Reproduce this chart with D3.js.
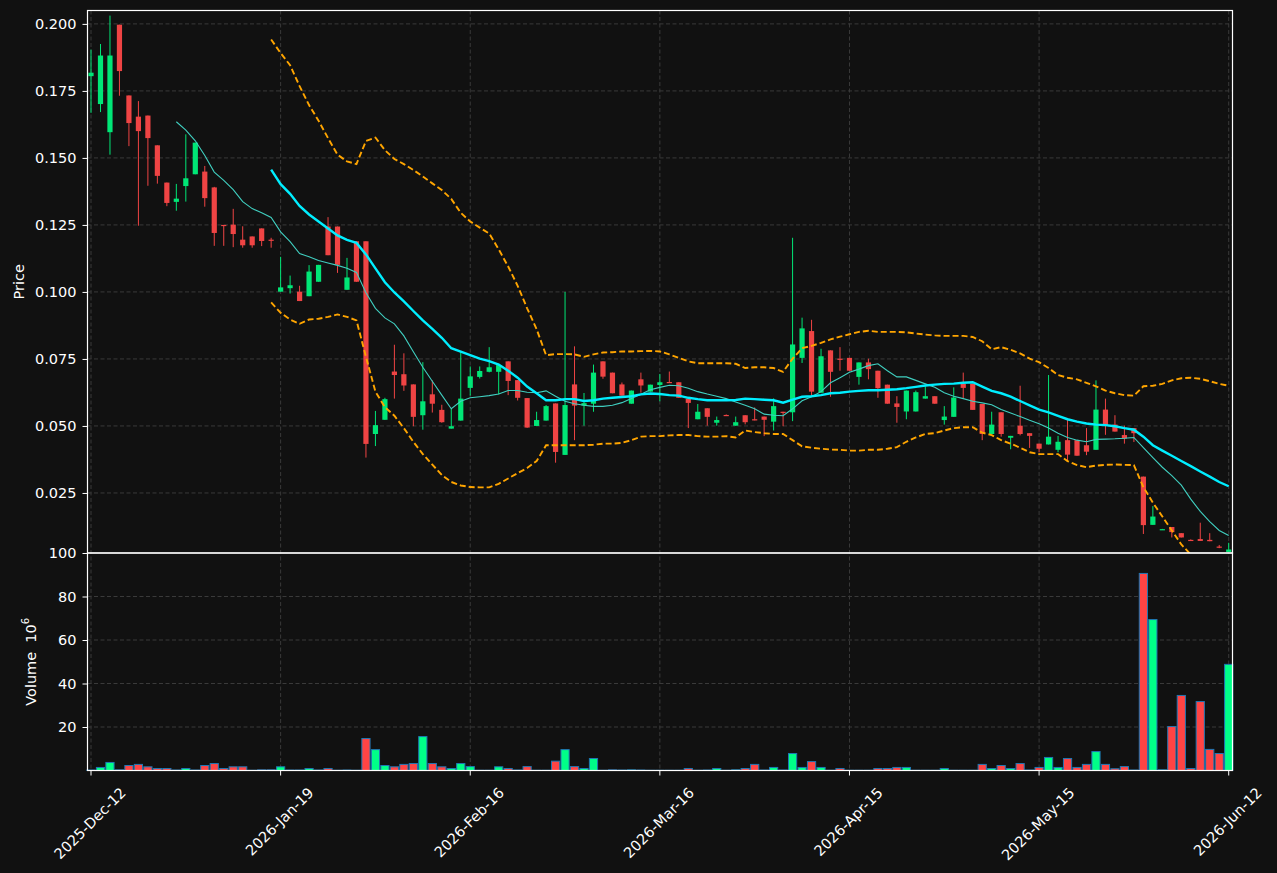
<!DOCTYPE html>
<html>
<head>
<meta charset="utf-8">
<script src="https://cdn.jsdelivr.net/npm/d3@7/dist/d3.min.js"></script>
<style>
  html, body { margin: 0; background: #111111; }
  svg { display: block; font-family: "DejaVu Sans", sans-serif; }
</style>
</head>
<body>
<svg id="chart" width="1277" height="873"></svg>
<script>
// Daily candles, one per trading row (index based x axis, like mplfinance)
const opens = [
  0.1805, 0.1701, 0.1596, 0.1997, 0.1733, 0.1654, 0.1658, 0.1547, 0.1408, 0.1336,
  0.1395, 0.1439, 0.1449, 0.1390, 0.1250, 0.1251, 0.1195, 0.1207, 0.1237, 0.1195,
  0.1001, 0.1014, 0.1001, 0.0984, 0.1038, 0.1244, 0.1244, 0.1008, 0.1189, 0.1189,
  0.0470, 0.0523, 0.0703, 0.0693, 0.0655, 0.0540, 0.0618, 0.0560, 0.0490, 0.0520,
  0.0642, 0.0683, 0.0702, 0.0702, 0.0741, 0.0671, 0.0604, 0.0500, 0.0520, 0.0584,
  0.0392, 0.0655, 0.0576, 0.0583, 0.0741, 0.0699, 0.0655, 0.0583, 0.0674, 0.0628,
  0.0653, 0.0664, 0.0663, 0.0602, 0.0525, 0.0566, 0.0512, 0.0541, 0.0501, 0.0540,
  0.0525, 0.0535, 0.0516, 0.0553, 0.0551, 0.0754, 0.0854, 0.0624, 0.0782, 0.0751,
  0.0754, 0.0683, 0.0737, 0.0706, 0.0654, 0.0584, 0.0554, 0.0554, 0.0602, 0.0611,
  0.0522, 0.0534, 0.0657, 0.0657, 0.0582, 0.0470, 0.0551, 0.0456, 0.0501, 0.0473,
  0.0434, 0.0431, 0.0411, 0.0447, 0.0447, 0.0428, 0.0411, 0.0561, 0.0505, 0.0466,
  0.0492, 0.0311, 0.0131, 0.0113, 0.0123, 0.0100, 0.0075, 0.0078, 0.0075, 0.0050,
  0.0030
];
const highs = [
  0.1904, 0.1925, 0.2031, 0.1997, 0.1733, 0.1712, 0.1658, 0.1547, 0.1408, 0.1403,
  0.1588, 0.1557, 0.1470, 0.1392, 0.1250, 0.1310, 0.1245, 0.1207, 0.1237, 0.1202,
  0.1131, 0.1061, 0.1023, 0.1100, 0.1101, 0.1279, 0.1244, 0.1127, 0.1189, 0.1189,
  0.0556, 0.0605, 0.0803, 0.0771, 0.0655, 0.0738, 0.0670, 0.0579, 0.0564, 0.0777,
  0.0722, 0.0722, 0.0794, 0.0732, 0.0741, 0.0671, 0.0604, 0.0553, 0.0578, 0.0584,
  0.1000, 0.0797, 0.0623, 0.0729, 0.0741, 0.0699, 0.0662, 0.0632, 0.0699, 0.0654,
  0.0694, 0.0703, 0.0663, 0.0603, 0.0582, 0.0566, 0.0535, 0.0543, 0.0535, 0.0540,
  0.0569, 0.0535, 0.0603, 0.0553, 0.1202, 0.0904, 0.0896, 0.0788, 0.0782, 0.0794,
  0.0754, 0.0737, 0.0751, 0.0706, 0.0654, 0.0611, 0.0632, 0.0632, 0.0648, 0.0611,
  0.0574, 0.0644, 0.0699, 0.0657, 0.0582, 0.0553, 0.0551, 0.0463, 0.0650, 0.0473,
  0.0434, 0.0690, 0.0463, 0.0525, 0.0447, 0.0492, 0.0670, 0.0602, 0.0540, 0.0501,
  0.0492, 0.0311, 0.0201, 0.0116, 0.0123, 0.0100, 0.0077, 0.0139, 0.0100, 0.0056,
  0.0064
];
const lows = [
  0.1668, 0.1671, 0.1512, 0.1732, 0.1544, 0.1247, 0.1396, 0.1404, 0.1320, 0.1303,
  0.1337, 0.1439, 0.1318, 0.1172, 0.1172, 0.1167, 0.1165, 0.1165, 0.1171, 0.1165,
  0.1001, 0.0994, 0.0966, 0.0984, 0.1038, 0.1137, 0.1071, 0.1008, 0.1038, 0.0382,
  0.0425, 0.0523, 0.0602, 0.0631, 0.0499, 0.0486, 0.0550, 0.0512, 0.0490, 0.0520,
  0.0613, 0.0677, 0.0700, 0.0618, 0.0615, 0.0595, 0.0493, 0.0500, 0.0520, 0.0363,
  0.0392, 0.0447, 0.0501, 0.0553, 0.0676, 0.0622, 0.0613, 0.0583, 0.0624, 0.0628,
  0.0592, 0.0662, 0.0605, 0.0492, 0.0525, 0.0501, 0.0501, 0.0537, 0.0501, 0.0506,
  0.0521, 0.0462, 0.0483, 0.0499, 0.0518, 0.0735, 0.0613, 0.0624, 0.0609, 0.0706,
  0.0706, 0.0654, 0.0674, 0.0605, 0.0583, 0.0512, 0.0525, 0.0554, 0.0602, 0.0583,
  0.0505, 0.0534, 0.0604, 0.0560, 0.0447, 0.0470, 0.0460, 0.0413, 0.0465, 0.0418,
  0.0402, 0.0431, 0.0402, 0.0369, 0.0389, 0.0391, 0.0411, 0.0467, 0.0479, 0.0434,
  0.0440, 0.0097, 0.0131, 0.0113, 0.0084, 0.0084, 0.0073, 0.0071, 0.0070, 0.0044,
  0.0029
];
const closes = [
  0.1818, 0.1882, 0.1882, 0.1824, 0.1630, 0.1600, 0.1574, 0.1433, 0.1332, 0.1348,
  0.1424, 0.1557, 0.1350, 0.1220, 0.1247, 0.1216, 0.1174, 0.1174, 0.1190, 0.1193,
  0.1017, 0.1025, 0.0966, 0.1076, 0.1101, 0.1137, 0.1101, 0.1054, 0.1038, 0.0433,
  0.0503, 0.0600, 0.0690, 0.0651, 0.0534, 0.0592, 0.0583, 0.0514, 0.0499, 0.0602,
  0.0685, 0.0705, 0.0719, 0.0727, 0.0668, 0.0605, 0.0494, 0.0522, 0.0574, 0.0403,
  0.0578, 0.0576, 0.0585, 0.0699, 0.0684, 0.0622, 0.0613, 0.0632, 0.0651, 0.0654,
  0.0663, 0.0662, 0.0605, 0.0586, 0.0553, 0.0534, 0.0522, 0.0539, 0.0514, 0.0514,
  0.0521, 0.0523, 0.0574, 0.0549, 0.0804, 0.0864, 0.0628, 0.0760, 0.0702, 0.0747,
  0.0706, 0.0737, 0.0712, 0.0641, 0.0583, 0.0571, 0.0632, 0.0626, 0.0611, 0.0583,
  0.0535, 0.0606, 0.0642, 0.0560, 0.0470, 0.0505, 0.0470, 0.0463, 0.0470, 0.0463,
  0.0415, 0.0460, 0.0441, 0.0393, 0.0389, 0.0404, 0.0561, 0.0501, 0.0479, 0.0453,
  0.0473, 0.0130, 0.0162, 0.0115, 0.0104, 0.0084, 0.0074, 0.0071, 0.0070, 0.0048,
  0.0039
];
// volume in millions
const volumes = [
  0.2, 1.4, 3.7, 0.3, 2.3, 2.8, 1.7, 0.9, 0.9, 0.2,
  0.9, 0.2, 2.3, 3.2, 0.9, 1.7, 1.7, 0.1, 0.3, 0.3,
  1.7, 0.2, 0.2, 0.9, 0.2, 0.9, 0.1, 0.2, 0.1, 14.7,
  9.6, 2.3, 1.7, 2.8, 3.2, 15.6, 3.2, 1.7, 0.9, 3.2,
  1.8, 0.1, 0.1, 1.7, 0.9, 0.2, 1.8, 0.1, 0.1, 4.3,
  9.6, 1.8, 0.9, 5.5, 0.1, 0.3, 0.2, 0.3, 0.2, 0.1,
  0.1, 0.1, 0.1, 0.9, 0.1, 0.2, 0.9, 0.1, 0.3, 0.9,
  2.8, 0.2, 1.4, 0.2, 7.8, 1.4, 4.1, 1.4, 0.1, 0.9,
  0.1, 0.1, 0.1, 0.9, 0.9, 1.4, 1.4, 0.1, 0.1, 0.1,
  0.9, 0.1, 0.1, 0.1, 2.8, 0.9, 2.3, 0.9, 3.2, 0.2,
  1.4, 6.0, 1.4, 5.5, 1.4, 2.8, 8.7, 2.8, 0.8, 1.8,
  0.2, 90.6, 69.4, 0.3, 20.2, 34.5, 0.9, 31.7, 9.7, 7.8,
  48.8
];

// overlay lines, each starting at the given row
const sma10Start = 9;
const sma10 = [
  0.1635, 0.1604, 0.1564, 0.1509, 0.1447, 0.1416, 0.1382, 0.1337, 0.1311, 0.1295, 0.1278,
  0.1224, 0.1188, 0.1143, 0.1131, 0.1117, 0.1108, 0.1099, 0.1088, 0.1073, 0.0997,
  0.0939, 0.0903, 0.0881, 0.0836, 0.0777, 0.0719, 0.0667, 0.0615, 0.0564, 0.0592,
  0.0605, 0.0609, 0.0613, 0.0619, 0.0632, 0.0632, 0.0626, 0.0624, 0.0631, 0.0611,
  0.0592, 0.0583, 0.0577, 0.0573, 0.0573, 0.0577, 0.0587, 0.0602, 0.0618, 0.0635,
  0.0644, 0.0652, 0.0650, 0.0641, 0.0628, 0.0619, 0.0611, 0.0602, 0.0589, 0.0577,
  0.0564, 0.0544, 0.0540, 0.0538, 0.0564, 0.0594, 0.0609, 0.0628, 0.0661, 0.0680,
  0.0700, 0.0712, 0.0725, 0.0732, 0.0706, 0.0683, 0.0683, 0.0670, 0.0657, 0.0644,
  0.0624, 0.0611, 0.0602, 0.0592, 0.0586, 0.0579, 0.0561, 0.0548, 0.0535, 0.0521,
  0.0508, 0.0492, 0.0473, 0.0457, 0.0447, 0.0441, 0.0450, 0.0451, 0.0452, 0.0454,
  0.0457, 0.0419, 0.0382, 0.0346, 0.0315, 0.0279, 0.0227, 0.0181, 0.0143, 0.0110,
  0.0091
];
const sma20Start = 19;
const sma20 = [
  0.1456,
  0.1402, 0.1366, 0.1321, 0.1289, 0.1263, 0.1237, 0.1211, 0.1194, 0.1183, 0.1140,
  0.1088, 0.1036, 0.0998, 0.0965, 0.0929, 0.0894, 0.0862, 0.0829, 0.0790, 0.0777,
  0.0764, 0.0751, 0.0742, 0.0729, 0.0706, 0.0680, 0.0647, 0.0622, 0.0596, 0.0596,
  0.0600, 0.0600, 0.0593, 0.0596, 0.0602, 0.0605, 0.0608, 0.0611, 0.0618, 0.0621,
  0.0619, 0.0615, 0.0613, 0.0605, 0.0600, 0.0596, 0.0596, 0.0596, 0.0597, 0.0602,
  0.0600, 0.0598, 0.0596, 0.0587, 0.0598, 0.0609, 0.0611, 0.0615, 0.0622, 0.0624,
  0.0628, 0.0631, 0.0633, 0.0633, 0.0635, 0.0637, 0.0641, 0.0646, 0.0651, 0.0654,
  0.0657, 0.0658, 0.0661, 0.0663, 0.0647, 0.0631, 0.0622, 0.0609, 0.0593, 0.0577,
  0.0561, 0.0551, 0.0538, 0.0525, 0.0516, 0.0509, 0.0505, 0.0503, 0.0499, 0.0492,
  0.0486, 0.0460, 0.0428, 0.0408, 0.0389, 0.0369, 0.0350, 0.0330, 0.0311, 0.0291,
  0.0275
];
const bbUpper = [
  0.1942,
  0.1891, 0.1846, 0.1768, 0.1697, 0.1639, 0.1574, 0.1512, 0.1487, 0.1477, 0.1563,
  0.1576, 0.1529, 0.1496, 0.1477, 0.1455, 0.1431, 0.1405, 0.1380, 0.1347, 0.1295,
  0.1263, 0.1240, 0.1218, 0.1159, 0.1095, 0.1023, 0.0939, 0.0861, 0.0764, 0.0768,
  0.0768, 0.0767, 0.0758, 0.0767, 0.0774, 0.0775, 0.0778, 0.0778, 0.0779, 0.0780,
  0.0778, 0.0767, 0.0754, 0.0741, 0.0734, 0.0734, 0.0734, 0.0734, 0.0732, 0.0716,
  0.0719, 0.0719, 0.0716, 0.0702, 0.0751, 0.0790, 0.0799, 0.0810, 0.0823, 0.0833,
  0.0842, 0.0851, 0.0855, 0.0851, 0.0851, 0.0851, 0.0849, 0.0845, 0.0841, 0.0838,
  0.0836, 0.0836, 0.0836, 0.0832, 0.0816, 0.0786, 0.0794, 0.0784, 0.0771, 0.0751,
  0.0738, 0.0716, 0.0690, 0.0680, 0.0674, 0.0661, 0.0648, 0.0632, 0.0622, 0.0615,
  0.0613, 0.0648, 0.0650, 0.0657, 0.0670, 0.0678, 0.0680, 0.0676, 0.0667, 0.0657,
  0.0650
];
const bbLower = [
  0.0961,
  0.0922, 0.0897, 0.0881, 0.0897, 0.0900, 0.0907, 0.0916, 0.0907, 0.0894, 0.0758,
  0.0628, 0.0570, 0.0538, 0.0492, 0.0441, 0.0395, 0.0356, 0.0317, 0.0291, 0.0278,
  0.0272, 0.0271, 0.0271, 0.0284, 0.0304, 0.0324, 0.0343, 0.0369, 0.0428, 0.0428,
  0.0428, 0.0428, 0.0428, 0.0430, 0.0434, 0.0434, 0.0437, 0.0447, 0.0460, 0.0462,
  0.0462, 0.0465, 0.0466, 0.0466, 0.0462, 0.0460, 0.0460, 0.0462, 0.0457, 0.0483,
  0.0477, 0.0473, 0.0470, 0.0470, 0.0447, 0.0424, 0.0419, 0.0415, 0.0412, 0.0411,
  0.0408, 0.0408, 0.0411, 0.0411, 0.0415, 0.0421, 0.0441, 0.0457, 0.0470, 0.0473,
  0.0483, 0.0492, 0.0495, 0.0495, 0.0475, 0.0466, 0.0447, 0.0434, 0.0419, 0.0402,
  0.0395, 0.0395, 0.0395, 0.0369, 0.0354, 0.0346, 0.0352, 0.0355, 0.0356, 0.0355,
  0.0354, 0.0272, 0.0214, 0.0162, 0.0110, 0.0058, 0.0020, -0.0016, -0.0045, -0.0075,
  -0.0100
];

const tickRows = [0, 20, 40, 60, 80, 100, 120];
const tickLabels = ["2025-Dec-12", "2026-Jan-19", "2026-Feb-16", "2026-Mar-16", "2026-Apr-15", "2026-May-15", "2026-Jun-12"];
const priceTicks = [0.025, 0.05, 0.075, 0.1, 0.125, 0.15, 0.175, 0.2];
const volumeTicks = [20, 40, 60, 80, 100];

const UP = "#00e676";
const DOWN = "#ef4444";
const VOL_UP = "#00ff88";
const VOL_DOWN = "#ff4444";
const GRID = "#3a3a3a";
const FONT = 14.5;

const left = 87.5, right = 1232.5;
const priceTop = 10.5, priceBottom = 553, volBottom = 770.5;

const svg = d3.select("#chart");
svg.append("rect").attr("width", 1277).attr("height", 873).attr("fill", "#111111");

const x = d3.scaleLinear().domain([-0.37, 120.4]).range([left, right]);
const yP = d3.scaleLinear().domain([0.0026, 0.205]).range([priceBottom, priceTop]);
const yV = d3.scaleLinear().domain([0, 100]).range([volBottom, priceBottom]);

const rows = d3.range(closes.length);
const isUp = (i) => closes[i] >= opens[i];

svg.append("clipPath").attr("id", "priceClip")
  .append("rect")
  .attr("x", left).attr("y", priceTop)
  .attr("width", right - left).attr("height", priceBottom - priceTop);

// grid
const grid = svg.append("g")
  .attr("stroke", GRID)
  .attr("stroke-width", 1)
  .attr("stroke-dasharray", "4,2.5");
grid.selectAll("line.hp").data(priceTicks).join("line")
  .attr("x1", left).attr("x2", right)
  .attr("y1", (d) => yP(d)).attr("y2", (d) => yP(d));
grid.selectAll("line.hv").data(volumeTicks.slice(0, -1)).join("line")
  .attr("class", "hv")
  .attr("x1", left).attr("x2", right)
  .attr("y1", (d) => yV(d)).attr("y2", (d) => yV(d));
grid.selectAll("line.vx").data(tickRows).join("line")
  .attr("class", "vx")
  .attr("x1", (d) => x(d)).attr("x2", (d) => x(d))
  .attr("y1", priceTop).attr("y2", volBottom);

// candles
const candleW = 5.2;
const candles = svg.append("g").attr("clip-path", "url(#priceClip)");
candles.selectAll("line").data(rows).join("line")
  .attr("x1", (i) => x(i)).attr("x2", (i) => x(i))
  .attr("y1", (i) => yP(highs[i])).attr("y2", (i) => yP(lows[i]))
  .attr("stroke", (i) => (isUp(i) ? UP : DOWN))
  .attr("stroke-width", 1);
candles.selectAll("rect").data(rows).join("rect")
  .attr("x", (i) => x(i) - candleW / 2)
  .attr("width", candleW)
  .attr("y", (i) => yP(Math.max(opens[i], closes[i])))
  .attr("height", (i) => Math.max(1.2, Math.abs(yP(opens[i]) - yP(closes[i]))))
  .attr("fill", (i) => (isUp(i) ? UP : DOWN));

// overlays
const lineFor = (start) => d3.line().x((d, k) => x(start + k)).y((d) => yP(d));
const overlays = svg.append("g").attr("clip-path", "url(#priceClip)").attr("fill", "none");
overlays.append("path").datum(bbUpper).attr("d", lineFor(sma20Start))
  .attr("stroke", "#ffa500").attr("stroke-width", 1.9).attr("stroke-dasharray", "6,3");
overlays.append("path").datum(bbLower).attr("d", lineFor(sma20Start))
  .attr("stroke", "#ffa500").attr("stroke-width", 1.9).attr("stroke-dasharray", "6,3");
overlays.append("path").datum(sma10).attr("d", lineFor(sma10Start))
  .attr("stroke", "#40cfc0").attr("stroke-width", 1.1);
overlays.append("path").datum(sma20).attr("d", lineFor(sma20Start))
  .attr("stroke", "#00eeff").attr("stroke-width", 2.4);

// volume bars
const barW = 8.2;
svg.append("g").selectAll("rect").data(rows).join("rect")
  .attr("x", (i) => x(i) - barW / 2)
  .attr("width", barW)
  .attr("y", (i) => yV(volumes[i]))
  .attr("height", (i) => yV(0) - yV(volumes[i]))
  .attr("fill", (i) => (isUp(i) ? VOL_UP : VOL_DOWN))
  .attr("stroke", "#1f77b4")
  .attr("stroke-width", 1);

// frames
const frame = svg.append("g").attr("fill", "none").attr("stroke", "white").attr("stroke-width", 1.2);
frame.append("rect").attr("x", left).attr("y", priceTop).attr("width", right - left).attr("height", priceBottom - priceTop);
frame.append("rect").attr("x", left).attr("y", priceBottom).attr("width", right - left).attr("height", volBottom - priceBottom);

// y axes
const styleAxis = (g) => {
  g.select(".domain").remove();
  g.selectAll(".tick line").attr("stroke", "white");
  g.selectAll(".tick text")
    .attr("fill", "white")
    .attr("font-size", FONT)
    .attr("font-family", "DejaVu Sans, sans-serif");
};
svg.append("g")
  .attr("transform", `translate(${left},0)`)
  .call(d3.axisLeft(yP).tickValues(priceTicks).tickFormat(d3.format(".3f")).tickSize(5).tickPadding(6))
  .call(styleAxis);
svg.append("g")
  .attr("transform", `translate(${left},0)`)
  .call(d3.axisLeft(yV).tickValues(volumeTicks).tickFormat(d3.format("d")).tickSize(5).tickPadding(6))
  .call(styleAxis);

// x axis (date labels at every 20th row)
const xAxis = svg.append("g");
xAxis.selectAll("line").data(tickRows).join("line")
  .attr("x1", (d) => x(d)).attr("x2", (d) => x(d))
  .attr("y1", volBottom).attr("y2", volBottom + 5)
  .attr("stroke", "white");
xAxis.selectAll("text").data(tickRows).join("text")
  .text((d, k) => tickLabels[k])
  .attr("fill", "white")
  .attr("font-size", FONT)
  .attr("text-anchor", "middle")
  .attr("dominant-baseline", "central")
  .each(function (d) {
    const w = this.getComputedTextLength();
    const half = (w + FONT * 1.1) / (2 * Math.SQRT2);
    d3.select(this).attr("transform", `translate(${x(d) - 1},${volBottom + 14 + half}) rotate(-45)`);
  });

// axis titles
svg.append("text")
  .attr("transform", `translate(19,${(priceTop + priceBottom) / 2}) rotate(-90)`)
  .attr("text-anchor", "middle")
  .attr("dominant-baseline", "central")
  .attr("fill", "white")
  .attr("font-size", FONT)
  .text("Price");
const volTitle = svg.append("text")
  .attr("transform", `translate(31,${(priceBottom + volBottom) / 2}) rotate(-90)`)
  .attr("text-anchor", "middle")
  .attr("dominant-baseline", "central")
  .attr("fill", "white")
  .attr("font-size", FONT);
volTitle.append("tspan").text("Volume\u00a0\u00a010");
volTitle.append("tspan").attr("dy", -6).attr("font-size", FONT * 0.7).text("6");
</script>
</body>
</html>
